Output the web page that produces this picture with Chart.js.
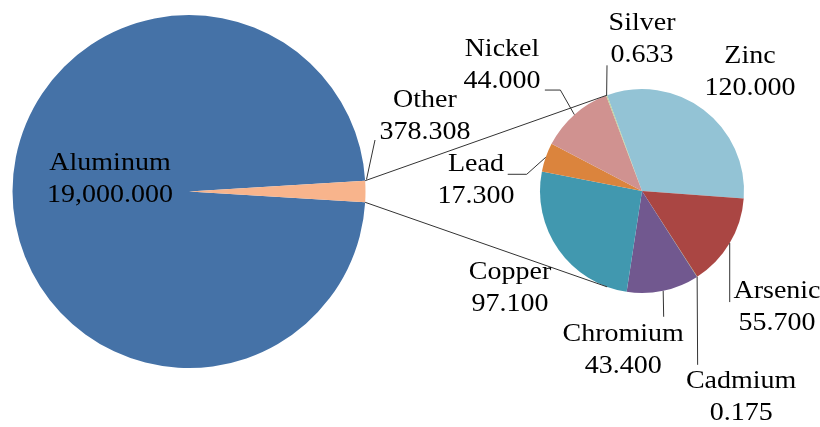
<!DOCTYPE html>
<html>
<head>
<meta charset="utf-8">
<script src="https://cdn.jsdelivr.net/npm/chart.js@4.4.1/dist/chart.umd.min.js"></script>
<style>
  body { margin: 0; background: #fff; }
  #wrap { position: relative; width: 820px; height: 427px; }
  #wrap canvas { position: absolute; left: 0; top: 0; }
</style>
</head>
<body>
<div id="wrap">
  <canvas id="chartMain" width="820" height="427"></canvas>
  <canvas id="chartDetalle" width="820" height="427"></canvas>
</div>
<script>
let mainLabels = ["Aluminum", "Other"];
let mainValues = [19000, 378.308];

let otherLabels = ["Zinc", "Arsenic", "Cadmium", "Chromium", "Copper", "Lead", "Nickel", "Silver"];
let otherValues = [120, 55.7, 0.175, 43.4, 97.1, 17.3, 44, 0.633];

let mainColors = ["#4572A7", "#F8B48C"];
let otherColors = ["#93C3D5", "#AA4643", "#89A54E", "#71588F", "#4198AF", "#DB843D", "#D09290", "#B9CD96"];

// label block offset from the slice's outer mid point, leader points relative to it
let labelLayout = {
  Aluminum: { dx: 97.5, dy: -12.5 },
  Other: { dx: 59.5, dy: -75.4, leader: [[1, -12], [9.5, -51.5]] },
  Zinc: { dx: 46.5, dy: -37 },
  Arsenic: { dx: 47.3, dy: 64.5, leader: [[0, 0], [0, 59]] },
  Cadmium: { dx: 44, dy: 120.7, leader: [[0, 0], [0.5, 88]] },
  Chromium: { dx: -40, dy: 59.3, leader: [[0, 0], [0.5, 26]] },
  Copper: { dx: -48.6, dy: 38.5 },
  Lead: { dx: -69.8, dy: 23.5, leader: [[0, 0], [-19, 17], [-38, 17]] },
  Nickel: { dx: -72.4, dy: -49, leader: [[0, 0], [-14, -24.6], [-29.5, -24.6]] },
  Silver: { dx: 35.4, dy: -56.2, leader: [[0, 0], [0.4, -30]] },
};

const formatValor = (v) =>
  v.toLocaleString("en-US", { minimumFractionDigits: 3, maximumFractionDigits: 3 });

const sumar = (arr) => arr.reduce((a, b) => a + b, 0);

const etiquetasPlugin = {
  id: "etiquetas",
  afterDatasetsDraw(chart) {
    let ctx = chart.ctx;
    let meta = chart.getDatasetMeta(0);
    let nombres = chart.data.labels;
    let valores = chart.data.datasets[0].data;
    meta.data.forEach((arc, i) => {
      let p = arc.getProps(["x", "y", "startAngle", "endAngle", "outerRadius"], true);
      let mid = (p.startAngle + p.endAngle) / 2;
      let ax = p.x + Math.cos(mid) * p.outerRadius;
      let ay = p.y + Math.sin(mid) * p.outerRadius;
      let lay = labelLayout[nombres[i]];
      if (!lay) return;

      ctx.save();
      if (lay.leader) {
        ctx.strokeStyle = "#333";
        ctx.lineWidth = 1;
        ctx.beginPath();
        lay.leader.forEach((pt, k) => {
          if (k === 0) ctx.moveTo(ax + pt[0], ay + pt[1]);
          else ctx.lineTo(ax + pt[0], ay + pt[1]);
        });
        ctx.stroke();
      }
      ctx.font = '25px "Liberation Serif"';
      ctx.fillStyle = "#000";
      ctx.textAlign = "center";
      ctx.textBaseline = "middle";
      let lineas = [nombres[i], formatValor(valores[i])];
      lineas.forEach((linea, k) => {
        ctx.save();
        ctx.translate(ax + lay.dx, ay + lay.dy + (k - 0.5) * 32);
        ctx.scale(1.12, 1);
        ctx.fillText(linea, 0, 0);
        ctx.restore();
      });
      ctx.restore();
    });
  },
};

let otherSpan = (mainValues[1] / sumar(mainValues)) * 360;

let chartMain = new Chart("chartMain", {
  type: "pie",
  data: {
    labels: mainLabels,
    datasets: [
      {
        data: mainValues,
        backgroundColor: mainColors,
        borderWidth: 0,
        hoverOffset: 0,
      },
    ],
  },
  options: {
    responsive: false,
    animation: false,
    rotation: 90 + otherSpan / 2,
    layout: { padding: { left: 12.5, top: 15, right: 454.5, bottom: 59 } },
    plugins: { legend: { display: false }, tooltip: { enabled: false } },
    events: [],
  },
  plugins: [etiquetasPlugin],
});

// lines joining the "Other" slice to the detail pie
const conectoresPlugin = {
  id: "conectores",
  afterDatasetsDraw(chart) {
    let ctx = chart.ctx;
    let otro = chartMain.getDatasetMeta(0).data[1].getProps(["x", "y", "startAngle", "endAngle", "outerRadius"], true);
    let primero = chart.getDatasetMeta(0).data[0].getProps(["x", "y", "startAngle", "outerRadius"], true);
    let a1 = primero.startAngle;
    let a2 = -primero.startAngle;
    ctx.save();
    ctx.strokeStyle = "#333";
    ctx.lineWidth = 1;
    ctx.beginPath();
    ctx.moveTo(otro.x + Math.cos(otro.startAngle) * otro.outerRadius, otro.y + Math.sin(otro.startAngle) * otro.outerRadius);
    ctx.lineTo(primero.x + Math.cos(a1) * primero.outerRadius, primero.y + Math.sin(a1) * primero.outerRadius);
    ctx.moveTo(otro.x + Math.cos(otro.endAngle) * otro.outerRadius, otro.y + Math.sin(otro.endAngle) * otro.outerRadius);
    ctx.lineTo(primero.x + Math.cos(a2) * primero.outerRadius, primero.y + Math.sin(a2) * primero.outerRadius);
    ctx.stroke();
    ctx.restore();
  },
};

let chartDetalle = new Chart("chartDetalle", {
  type: "pie",
  data: {
    labels: otherLabels,
    datasets: [
      {
        data: otherValues,
        backgroundColor: otherColors,
        borderWidth: 0,
        hoverOffset: 0,
      },
    ],
  },
  options: {
    responsive: false,
    animation: false,
    rotation: -20,
    layout: { padding: { left: 540, top: 89, right: 76, bottom: 134 } },
    plugins: { legend: { display: false }, tooltip: { enabled: false } },
    events: [],
  },
  plugins: [conectoresPlugin, etiquetasPlugin],
});
</script>
</body>
</html>
